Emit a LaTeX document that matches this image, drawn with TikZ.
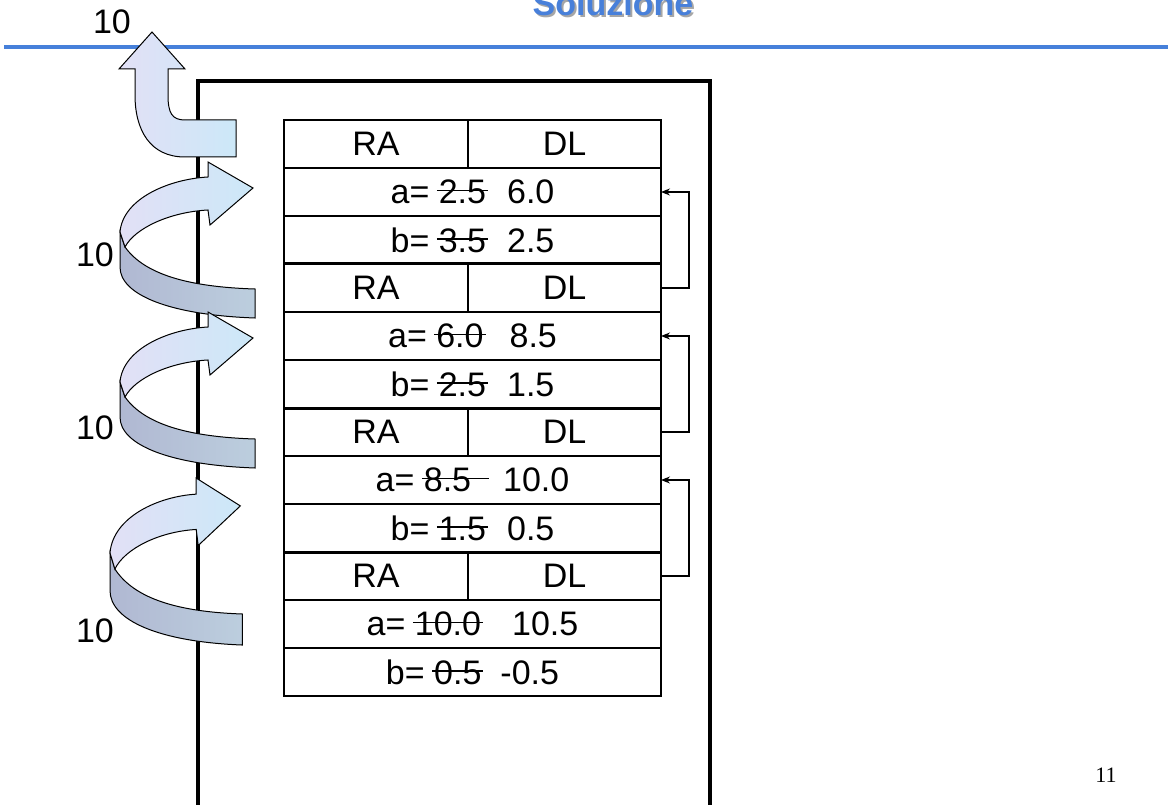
\documentclass[tikz,border=0pt]{standalone}
\usepackage{fontspec}
\setmainfont{Liberation Sans}
\newfontfamily\pagenumfont{Liberation Serif}
\usetikzlibrary{arrows.meta}
\newsavebox\stkbox
\newcommand{\strk}[2][0pt]{\sbox\stkbox{#2}\rlap{\hspace{-2pt}\rule[0.36em]{\dimexpr\wd\stkbox+4pt+#1\relax}{1.8pt}}\usebox\stkbox}
\newcommand{\tabfont}{\fontsize{34}{40}\selectfont}
\definecolor{titleblue}{RGB}{72,128,218}
\definecolor{lineblue}{RGB}{70,128,218}
\definecolor{ribA}{RGB}{226,224,246}
\definecolor{ribB}{RGB}{204,232,248}
\definecolor{darkA}{RGB}{176,184,210}
\definecolor{darkB}{RGB}{188,206,222}
\tikzset{
  cell/.style={draw, line width=2pt, minimum height=48pt, inner sep=0pt, outer sep=0pt, font=\tabfont, anchor=north west},
  frame/.style={line width=4pt, line cap=rect},
  link/.style={line width=1.2pt, -{Stealth[length=9pt,width=7pt]}},
  lightrib/.style={draw=black, line width=1pt, left color=ribA, right color=ribB},
  darkrib/.style={draw=black, line width=1pt, left color=darkA, right color=darkB},
  lbl/.style={font=\tabfont, inner sep=0pt}
}
\newcommand{\helix}[4]{%
  \begin{scope}[shift={(#1,#2)}, xscale=#3, yscale=#4]
    \path[darkrib] (5,15) .. controls (25,43) and (70,55) .. (135,57) -- (135,86)
      .. controls (50,83) and (0,63) .. (0,35) -- (0,0) -- cycle;
    \path[lightrib] (0,0) .. controls (3,-34) and (50,-53) .. (88,-55) -- (88,-70)
      -- (133,-44) -- (90,-7) -- (88,-22) .. controls (50,-20) and (15,-4) .. (5,15) -- cycle;
  \end{scope}}
\begin{document}
\begin{tikzpicture}[x=1pt,y=-1pt]
\useasboundingbox (0,0) rectangle (1168,805);
\fill[white] (0,0) rectangle (1168,805);
% title (cut off at the top edge, as in the reference)
\node[font=\bfseries\fontsize{34}{40}\selectfont, text=black!35, anchor=base] at (615,18) {Soluzione};
\node[font=\bfseries\fontsize{34}{40}\selectfont, text=titleblue, anchor=base] (title) at (613,16) {Soluzione};
\draw[lineblue, line width=3.5pt] (4,47) -- (1168,47);
% stack frame
\draw[frame] (197.5,820) -- (197.5,81) -- (710,81) -- (710,820);
% table
\foreach \g/\y in {1/120,2/264,3/408,4/552}{
  \node[cell, minimum width=184pt] (ra\g) at (284,\y) {RA};
  \node[cell, minimum width=193pt] (dl\g) at (468,\y) {DL};
}
\node[cell, minimum width=377pt] (a1) at (284,168) {a= \strk{2.5}\hspace{21pt}6.0};
\node[cell, minimum width=377pt] (b1) at (284,216) {b= \strk{3.5}\hspace{21pt}2.5};
\node[cell, minimum width=377pt] (a2) at (284,312) {a= \strk{6.0}\hspace{26pt}8.5};
\node[cell, minimum width=377pt] (b2) at (284,360) {b= \strk{2.5}\hspace{21pt}1.5};
\node[cell, minimum width=377pt] (a3) at (284,456) {a= \strk[16pt]{8.5}\hspace{32pt}10.0};
\node[cell, minimum width=377pt] (b3) at (284,504) {b= \strk{1.5}\hspace{21pt}0.5};
\node[cell, minimum width=377pt] (a4) at (284,600) {a= \strk{10.0}\hspace{31pt}10.5};
\node[cell, minimum width=377pt] (b4) at (284,648) {b= \strk{0.5}\hspace{19pt}-0.5};
\foreach \g in {2,3,4}{
  \draw[line width=3pt] (ra\g.north west) -- (dl\g.north east);
}
\draw[line width=2.5pt] (ra1.north west) rectangle (b4.south east);
% links
\draw[link] (dl2.east) -- ++(28,0) |- (a1.east);
\draw[link] (dl3.east) -- ++(28,0) |- (a2.east);
\draw[link] (dl4.east) -- ++(28,0) |- (a3.east);
% helix arrows
\helix{120}{232}{1}{1}
\helix{120}{382}{1}{1}
\helix{110}{553}{0.98}{1.07}
% return arrow
\path[lightrib] (135,69) -- (119,69) -- (152,32) -- (185,69) -- (168,69) -- (168,95)
  .. controls (168,113) and (172,120) .. (185,120) -- (236,120) -- (236,157) -- (185,157)
  .. controls (150,157) and (135,130) .. (135,95) -- cycle;
% labels
\node[lbl] (l0) at (112,22) {10};
\node[lbl] (l1) at (95,255) {10};
\node[lbl] (l2) at (95,428) {10};
\node[lbl] (l3) at (95,631) {10};
\node[font=\pagenumfont\fontsize{22}{26}\selectfont, inner sep=0pt] (pg) at (1106,775) {11};
\end{tikzpicture}
\end{document}
